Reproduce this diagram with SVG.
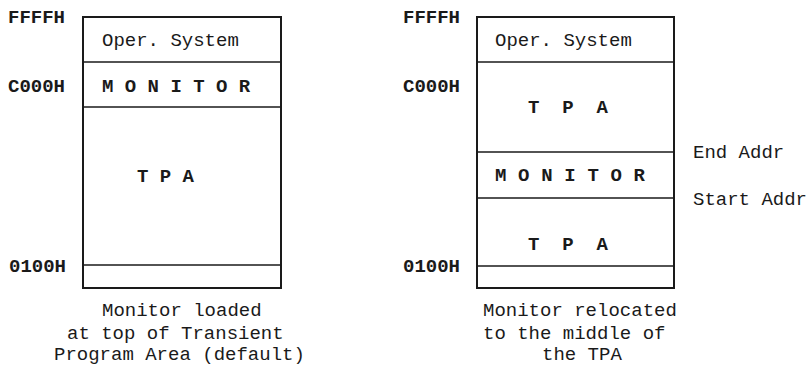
<svg xmlns="http://www.w3.org/2000/svg" width="808" height="365" viewBox="0 0 808 365">
<style>
text{font-family:"Liberation Mono","Courier New",monospace;font-size:19px;fill:#1a1a1a;white-space:pre}
.b{font-weight:bold}
.box{fill:none;stroke:#1a1a1a;stroke-width:2}
.div{stroke:#1a1a1a;stroke-width:1.6}
</style>
<rect width="808" height="365" fill="#fff"/>
<g id="left-map">
<rect class="box" x="83" y="17" width="198" height="271"/>
<line class="div" x1="83" y1="62" x2="281" y2="62"/>
<line class="div" x1="83" y1="107" x2="281" y2="107"/>
<line class="div" x1="83" y1="265" x2="281" y2="265"/>
<text x="102" y="46">Oper. System</text>
<text class="b" x="102" y="92">M O N I T O R</text>
<text class="b" x="137" y="182">T P A</text>
<text class="b" x="8" y="23">FFFFH</text>
<text class="b" x="8" y="92">C000H</text>
<text class="b" x="9" y="272">0100H</text>
<text x="102" y="316">Monitor loaded</text>
<text x="67" y="339">at top of Transient</text>
<text x="54" y="360">Program Area (default)</text>
</g>
<g id="right-map">
<rect class="box" x="477" y="17" width="197" height="271"/>
<line class="div" x1="477" y1="62" x2="674" y2="62"/>
<line class="div" x1="477" y1="152" x2="674" y2="152"/>
<line class="div" x1="477" y1="198" x2="674" y2="198"/>
<line class="div" x1="477" y1="266" x2="674" y2="266"/>
<text x="495" y="46">Oper. System</text>
<text class="b" x="528" y="113">T  P  A</text>
<text class="b" x="495" y="181" textLength="150">M O N I T O R</text>
<text class="b" x="528" y="250">T  P  A</text>
<text class="b" x="403" y="23">FFFFH</text>
<text class="b" x="403" y="92">C000H</text>
<text class="b" x="403" y="272">0100H</text>
<text x="693" y="158">End Addr</text>
<text x="693" y="205">Start Addr</text>
<text x="483" y="316">Monitor relocated</text>
<text x="483" y="339">to the middle of</text>
<text x="542" y="360">the TPA</text>
</g>
</svg>
